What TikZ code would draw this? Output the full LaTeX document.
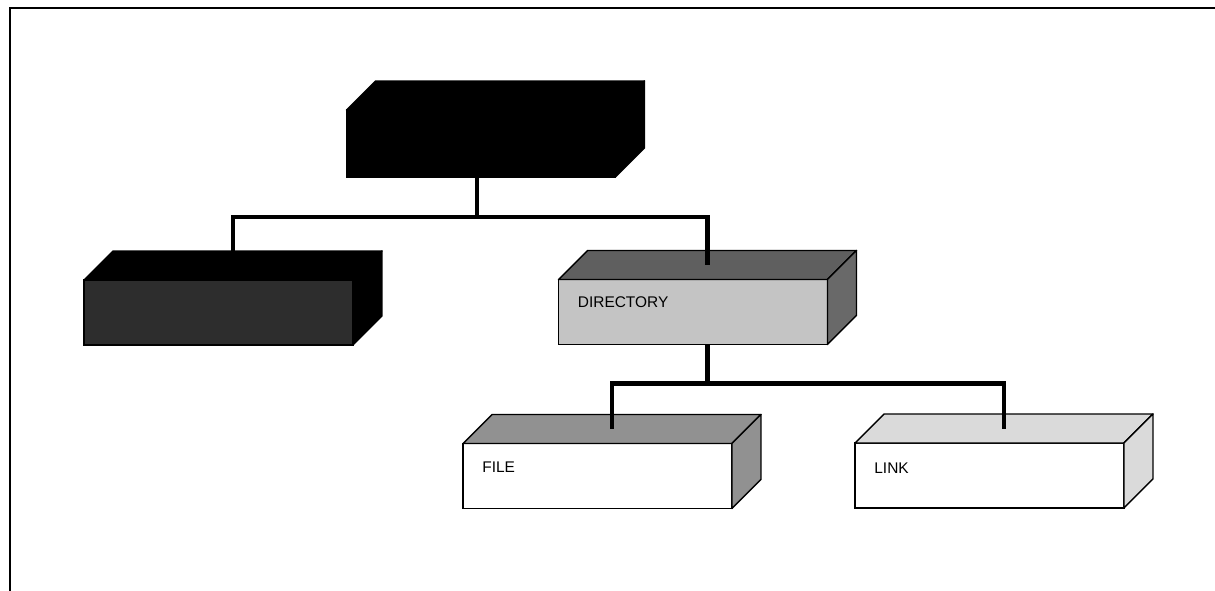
\documentclass[tikz,border=0pt]{standalone}
\usepackage{fontspec}
\setmainfont{Liberation Sans}
\usetikzlibrary{calc}
\definecolor{leftfront}{RGB}{45, 45, 45}
\definecolor{dirtop}{RGB}{95, 95, 95}
\definecolor{dirfront}{RGB}{196, 196, 196}
\definecolor{dirside}{RGB}{105, 105, 105}
\definecolor{filetop}{RGB}{145, 145, 145}
\definecolor{linktop}{RGB}{218, 218, 218}

\begin{document}
\begin{tikzpicture}[x=0.02cm, y=-0.02cm,
    box/.style={draw, line width=0.8pt, minimum width=5.38cm, minimum height=1.3cm,
                inner sep=0pt, outer sep=0pt},
    face/.style={draw, line width=0.8pt, line join=round},
    tag/.style={anchor=west, inner sep=0pt, font=\fontsize{8.8}{10.5}\selectfont},
    conn/.style={line width=2.8pt},
    frame/.style={line width=1.1pt},
]
\useasboundingbox (0,0) rectangle (1215,591);
\draw[frame] (10,591) -- (10,8) -- (1215,8);

% front faces
\node[box, fill=black, minimum height=1.34cm] (root) at (481,143.5) {};
\node[box, fill=leftfront] (left) at (218.5,312.5) {};
\node[box, fill=dirfront]  (dir)  at (693,312)     {};
\node[box, fill=white]     (file) at (597.5,476)   {};
\node[box, fill=white]     (link) at (989.5,475.5) {};

% top and side faces
\foreach \n/\tc/\sc in {root/black/black, left/black/black, dir/dirtop/dirside,
                        file/filetop/filetop, link/linktop/linktop} {
  \filldraw[face, fill=\tc] (\n.north west) -- ++(29,-29) -- ($(\n.north east)+(29,-29)$)
      -- (\n.north east) -- cycle;
  \filldraw[face, fill=\sc] (\n.north east) -- ++(29,-29) -- ($(\n.south east)+(29,-29)$)
      -- (\n.south east) -- cycle;
  \coordinate (\n-top) at ($(\n.north)+(14.5,-14.5)$);
}

\node[tag] (dir-lbl)  at ([shift={(19,23)}]dir.north west)  {DIRECTORY};
\node[tag] (file-lbl) at ([shift={(19,24)}]file.north west) {FILE};
\node[tag] (link-lbl) at ([shift={(19,25)}]link.north west) {LINK};

% connectors
\draw[conn] ([shift={(-4,0)}]root.south) -- ++(0,40) -| (left-top);
\draw[conn] ([shift={(-4,0)}]root.south) ++(0,40) -| (dir-top);
\draw[conn] (dir-top |- dir.south) -- ++(0,39) -| (file-top);
\draw[conn] (dir-top |- dir.south) ++(0,39) -| (link-top);
\end{tikzpicture}
\end{document}
